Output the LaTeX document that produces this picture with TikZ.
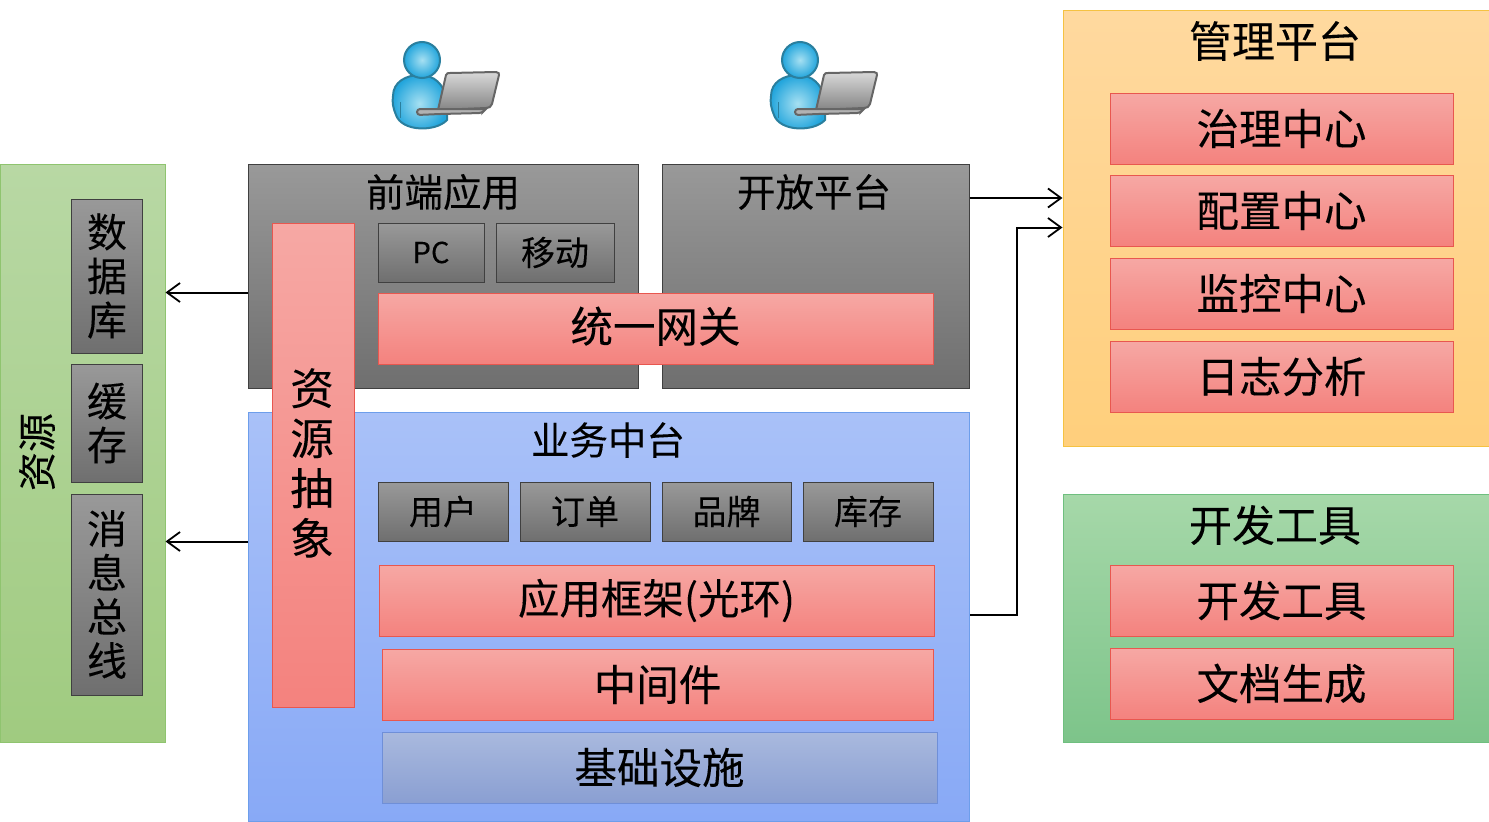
\documentclass[tikz,border=0pt]{standalone}
\usepackage{fontspec}
\setmainfont{Noto Sans CJK SC}[FakeBold=0.12]
\usetikzlibrary{positioning,arrows.meta,calc}
\definecolor{redtop}{HTML}{F6A8A4}
\definecolor{redbot}{HTML}{F4827E}
\definecolor{redline}{HTML}{E8574F}
\definecolor{graytop}{HTML}{999999}
\definecolor{graybot}{HTML}{6F6F6F}
\definecolor{grayline}{HTML}{404040}
\definecolor{bluetop}{HTML}{A9C1F8}
\definecolor{bluebot}{HTML}{88A9F6}
\definecolor{blueline}{HTML}{6D9EEB}
\definecolor{slatetop}{HTML}{A9B9DE}
\definecolor{slatebot}{HTML}{8A9FD2}
\definecolor{slateline}{HTML}{6F8FD8}
\definecolor{orangetop}{HTML}{FFD99F}
\definecolor{orangebot}{HTML}{FFCF7C}
\definecolor{orangeline}{HTML}{F5C242}
\definecolor{greentop}{HTML}{A6D8A9}
\definecolor{greenbot}{HTML}{7DC48A}
\definecolor{greenline}{HTML}{6FBF7F}
\definecolor{limetop}{HTML}{B8D8A4}
\definecolor{limebot}{HTML}{A0CB80}
\definecolor{limeline}{HTML}{8FC46F}
\definecolor{skyline}{HTML}{2A7F9E}
\definecolor{skyin}{HTML}{A6E0F2}
\definecolor{skyout}{HTML}{22A5DC}
\tikzset{
  wh/.style 2 args={minimum width=#1,minimum height=#2},
  box/.style={anchor=north west,inner sep=0pt,line width=1pt,align=center},
  redbox/.style={box,draw=redline,top color=redtop,bottom color=redbot,font=\fontsize{42.5}{42.5}\selectfont},
  graybox/.style={box,draw=grayline,top color=graytop,bottom color=graybot},
  smallbox/.style={graybox,font=\fontsize{34}{34}\selectfont},
  title/.style={inner sep=0pt,align=center,font=\fontsize{43}{43}\selectfont},
  link/.style={line width=2pt,-{Straight Barb[length=13pt,width=19pt,line width=1.8pt]}},
}
\begin{document}
\begin{tikzpicture}[x=1pt,y=-1pt,
  person/.pic={
    \draw[line width=2pt,draw=skyline,inner color=skyin,outer color=skyout]
      (-29,36) .. controls (-29,22) and (-16,15) .. (-2,15) .. controls (12,15) and (22,24) .. (25,40)
      -- (25,60) .. controls (14,72) and (-20,72) .. (-26,55) .. controls (-29,48) and (-30,42) .. (-29,36) -- cycle;
    \draw[line width=1pt,draw=skyline] (-22,42) -- (-22,58);
    \draw[line width=2pt,draw=skyline,inner color=skyin,outer color=skyout]
      (0,0) circle [radius=18];
    \draw[line width=2pt,draw=black!60,top color=black!15,bottom color=black!48]
      (16,50) -- (24,15) .. controls (25,13) and (26,13) .. (28,13) -- (74,12) .. controls (77,12) and (77,14) .. (77,15)
      -- (70,44) .. controls (69,47) and (67,48) .. (64,48) -- cycle;
    \draw[line width=2pt,draw=black!60,fill=black!30,rounded corners=3pt]
      (-5,49) -- (17,49) -- (64,49) -- (60,53) -- (18,54) -- (-5,55) -- cycle;
  }]
  \useasboundingbox (0,0) rectangle (1489,822);
  % users
  \pic at (422,60) {person};
  \pic at (800,60) {person};
  % resources
  \node[box,draw=limeline,top color=limetop,bottom color=limebot,wh={165}{578}] (resources) at (-0.5,163.5) {};
  \node[title,rotate=90,font=\fontsize{39}{39}\selectfont] (resourcestitle) at (37,452) {资源};
  \node[graybox,wh={71}{154},font=\fontsize{40}{44}\selectfont] (database) at (71,198.5) {数\\据\\库};
  \node[graybox,wh={71}{118},font=\fontsize{40}{44}\selectfont] (cache) at (71,363.5) {缓\\存};
  \node[graybox,wh={71}{201},font=\fontsize{40}{44}\selectfont] (bus) at (71,493.5) {消\\息\\总\\线};
  % frontend and open platform
  \node[graybox,wh={390}{224}] (frontend) at (248,163.5) {};
  \node[title,font=\fontsize{38.5}{38.5}\selectfont] (frontendtitle) at (443,192) {前端应用};
  \node[graybox,wh={307}{224}] (openapi) at (661.5,163.5) {};
  \node[title,font=\fontsize{38.5}{38.5}\selectfont] (openapititle) at (814,192) {开放平台};
  \node[smallbox,wh={106}{59},font=\fontsize{29}{29}\selectfont] (pc) at (377.5,222.5) {PC};
  \node[smallbox,wh={118}{59}] (mobile) at (495.5,222.5) {移动};
  \node[redbox,wh={555}{71}] (gateway) at (377.5,292.5) {\raisebox{8pt}{统一网关}};
  % business platform
  \node[box,draw=blueline,top color=bluetop,bottom color=bluebot,wh={721}{409}] (business) at (248,411.5) {};
  \node[title,font=\fontsize{38.5}{38.5}\selectfont] (businesstitle) at (608,440) {业务中台};
  \node[smallbox,wh={130}{59}] (user) at (377.5,481.5) {用户};
  \node[smallbox,wh={130}{59}] (order) at (519.5,481.5) {订单};
  \node[smallbox,wh={129}{59}] (brand) at (661.5,481.5) {品牌};
  \node[smallbox,wh={130}{59}] (stock) at (802.5,481.5) {库存};
  \node[redbox,wh={555}{71},font=\fontsize{41.5}{41.5}\selectfont] (framework) at (378.5,564.5) {\raisebox{5pt}{应用框架(光环)}};
  \node[redbox,wh={551}{71}] (middleware) at (381.5,648.5) {\raisebox{2pt}{中间件}};
  \node[box,draw=slateline,top color=slatetop,bottom color=slatebot,wh={555}{71},font=\fontsize{42.5}{42.5}\selectfont] (infra) at (381.5,731.5) {\raisebox{2pt}{基础设施}};
  \node[redbox,wh={82}{484}] (abstract) at (271.5,222.5) {};
  \node[title,font=\fontsize{43.5}{50}\selectfont] (abstracttext) at (312,463) {资\\源\\抽\\象};
  % management
  \node[box,draw=orangeline,top color=orangetop,bottom color=orangebot,wh={426}{436}] (manage) at (1062.5,9.5) {};
  \node[title] (managetitle) at (1275,41) {管理平台};
  \node[redbox,wh={343}{71}] (govern) at (1109.5,92.5) {\raisebox{3pt}{治理中心}};
  \node[redbox,wh={343}{71}] (config) at (1109.5,174.5) {\raisebox{3pt}{配置中心}};
  \node[redbox,wh={343}{71}] (monitor) at (1109.5,257.5) {\raisebox{3pt}{监控中心}};
  \node[redbox,wh={343}{71}] (logs) at (1109.5,340.5) {\raisebox{3pt}{日志分析}};
  % dev tools
  \node[box,draw=greenline,top color=greentop,bottom color=greenbot,wh={426}{248}] (devtools) at (1062.5,493.5) {};
  \node[title] (devtitle) at (1275,525) {开发工具};
  \node[redbox,wh={343}{71}] (tools) at (1109.5,564.5) {\raisebox{2pt}{开发工具}};
  \node[redbox,wh={343}{71}] (docs) at (1109.5,647.5) {\raisebox{2pt}{文档生成}};
  % links
  \draw[link] (frontend.west |- gateway.north) -- (resources.east |- gateway.north);
  \draw[link] (business.west |- user.south) -- (resources.east |- user.south);
  \coordinate (openout) at ($(openapi.north east)+(0,34.5)$);
  \draw[link] (openout) -- (manage.west |- openout);
  \coordinate (bizout) at ($(business.east)+(0,-2)$);
  \coordinate (bizin) at ($(manage.north west)+(0,218)$);
  \coordinate (bizturn) at (1017,400);
  \draw[link] (bizout) -- (bizturn |- bizout) -- (bizturn |- bizin) -- (bizin);
\end{tikzpicture}
\end{document}
